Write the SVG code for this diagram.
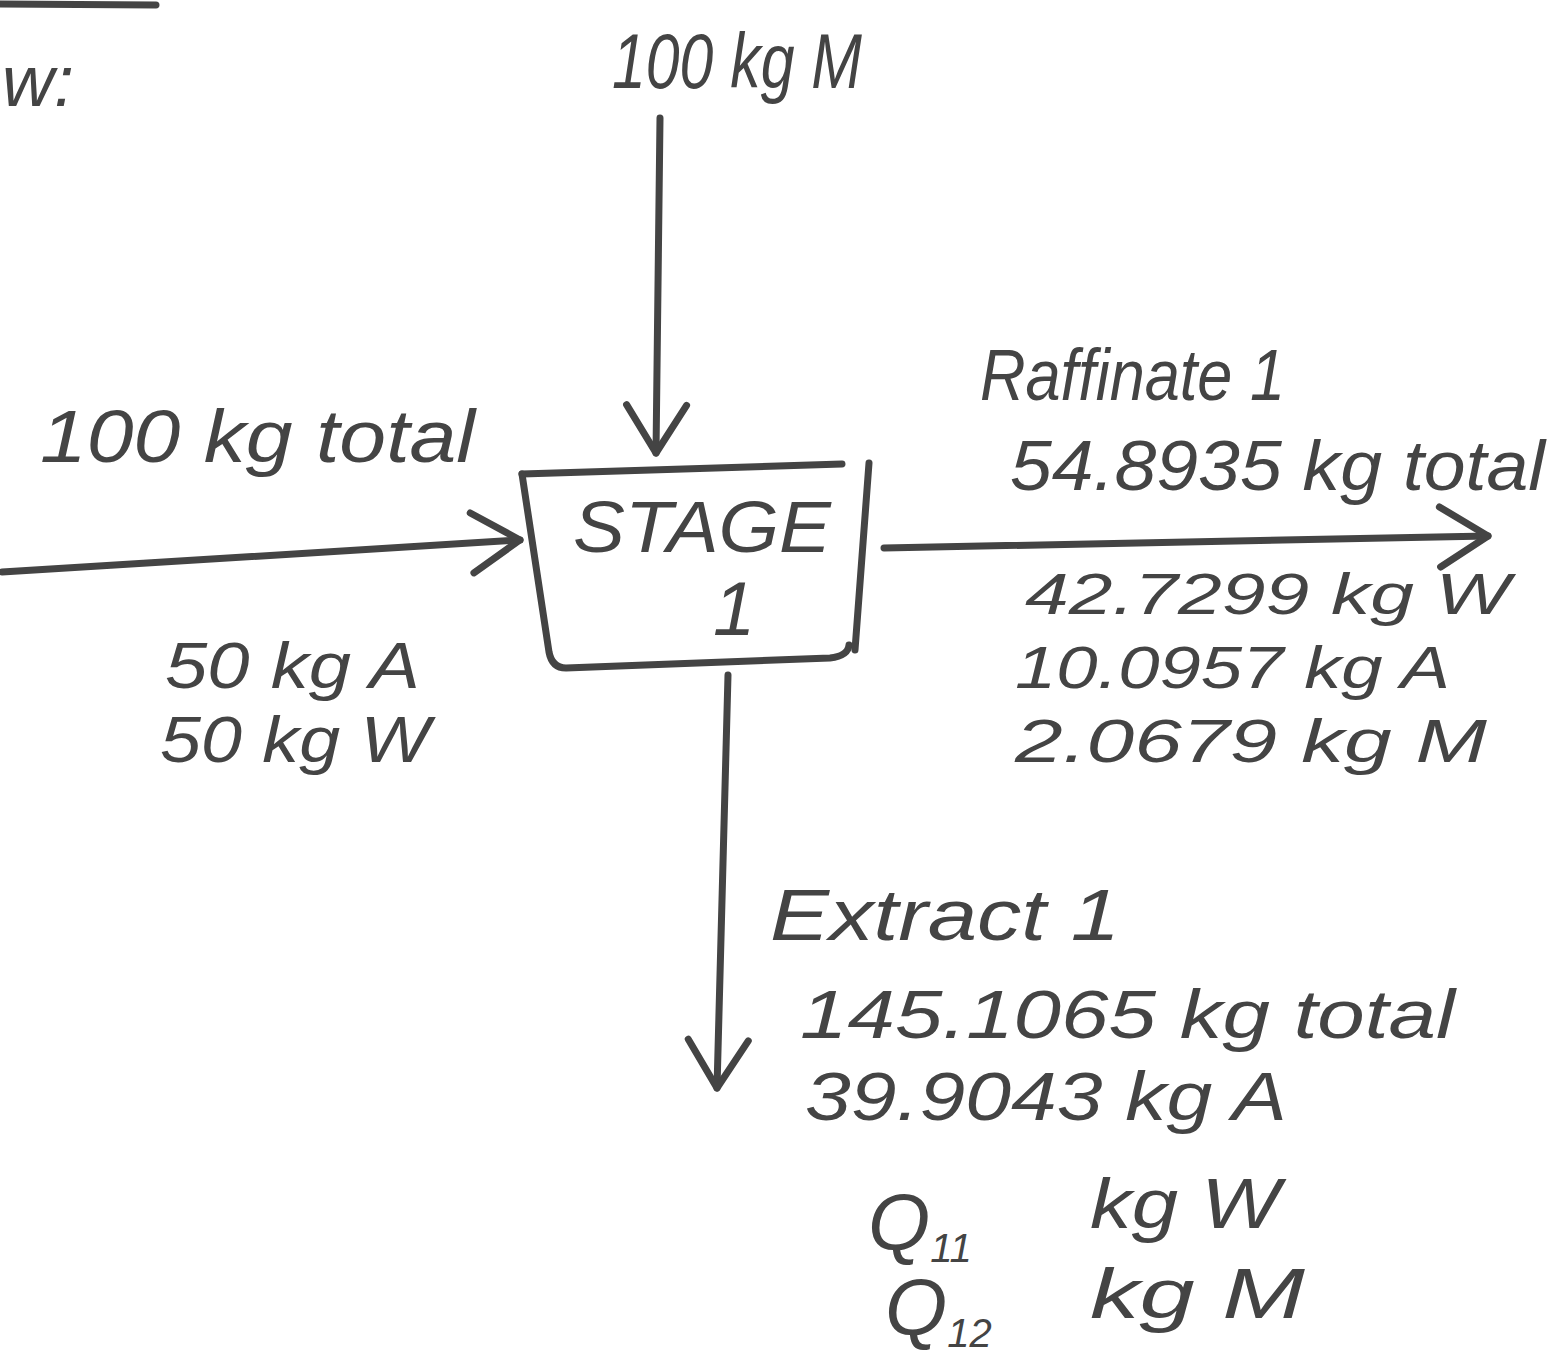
<svg xmlns="http://www.w3.org/2000/svg" width="1554" height="1358" viewBox="0 0 1554 1358">
<style>
.ln{fill:none;stroke:#444;stroke-width:7;stroke-linecap:round;stroke-linejoin:round}
.t{font-family:"Liberation Sans",Arial,sans-serif;fill:#444;font-style:italic}
</style>
<defs>
<marker id="ah" markerUnits="userSpaceOnUse" markerWidth="80" markerHeight="80" refX="0" refY="0" viewBox="-60 -40 70 80" orient="auto" overflow="visible">
<path d="M-48 -30 L0 0 L-48 30" fill="none" stroke="#444" stroke-width="7" stroke-linecap="round" stroke-linejoin="round"/>
</marker>
</defs>
<rect width="1554" height="1358" fill="#fff"/>
<g id="header">
<path class="ln" d="M0 4 L156 5"/>
<text class="t" x="2" y="106" font-size="72">w:</text>
</g>
<g id="stage1">
<path class="ln" d="M522 474 L842 464"/>
<path class="ln" d="M522 474 L549 652 Q552 668 566 668 L830 658 Q848 656 849 645"/>
<path class="ln" d="M869 463 L855 650"/>
<text class="t" x="573" y="552" font-size="72" textLength="258" lengthAdjust="spacingAndGlyphs">STAGE</text>
<text class="t" x="713" y="635" font-size="76">1</text>
</g>
<g id="connectors">
<path class="ln" d="M660 118 L656 453" marker-end="url(#ah)"/>
<path class="ln" d="M2 572 L520 540" marker-end="url(#ah)"/>
<path class="ln" d="M884 548 L1488 536" marker-end="url(#ah)"/>
<path class="ln" d="M728 675 L717 1088" marker-end="url(#ah)"/>
</g>
<g id="feed-M">
<text class="t" x="612" y="88" font-size="78" textLength="250" lengthAdjust="spacingAndGlyphs">100 kg M</text>
</g>
<g id="feed">
<text class="t" x="40" y="462" font-size="74" textLength="435" lengthAdjust="spacingAndGlyphs">100 kg total</text>
<text class="t" x="165" y="688" font-size="64" textLength="255" lengthAdjust="spacingAndGlyphs">50 kg A</text>
<text class="t" x="160" y="762" font-size="64" textLength="270" lengthAdjust="spacingAndGlyphs">50 kg W</text>
</g>
<g id="raffinate1">
<text class="t" x="980" y="400" font-size="72" textLength="305" lengthAdjust="spacingAndGlyphs">Raffinate 1</text>
<text class="t" x="1010" y="490" font-size="70" textLength="535" lengthAdjust="spacingAndGlyphs">54.8935 kg total</text>
<text class="t" x="1025" y="614" font-size="58" textLength="485" lengthAdjust="spacingAndGlyphs">42.7299 kg W</text>
<text class="t" x="1015" y="688" font-size="60" textLength="435" lengthAdjust="spacingAndGlyphs">10.0957 kg A</text>
<text class="t" x="1015" y="762" font-size="62" textLength="472" lengthAdjust="spacingAndGlyphs">2.0679 kg M</text>
</g>
<g id="extract1">
<text class="t" x="770" y="940" font-size="72" textLength="350" lengthAdjust="spacingAndGlyphs">Extract 1</text>
<text class="t" x="800" y="1038" font-size="68" textLength="655" lengthAdjust="spacingAndGlyphs">145.1065 kg total</text>
<text class="t" x="805" y="1120" font-size="68" textLength="482" lengthAdjust="spacingAndGlyphs">39.9043 kg A</text>
<text class="t" x="868" y="1250" font-size="80">Q<tspan font-size="40" dy="12">11</tspan></text>
<text class="t" x="1090" y="1228" font-size="70" textLength="190" lengthAdjust="spacingAndGlyphs">kg W</text>
<text class="t" x="885" y="1335" font-size="80">Q<tspan font-size="40" dy="12">12</tspan></text>
<text class="t" x="1090" y="1318" font-size="70" textLength="215" lengthAdjust="spacingAndGlyphs">kg M</text>
</g>
</svg>
